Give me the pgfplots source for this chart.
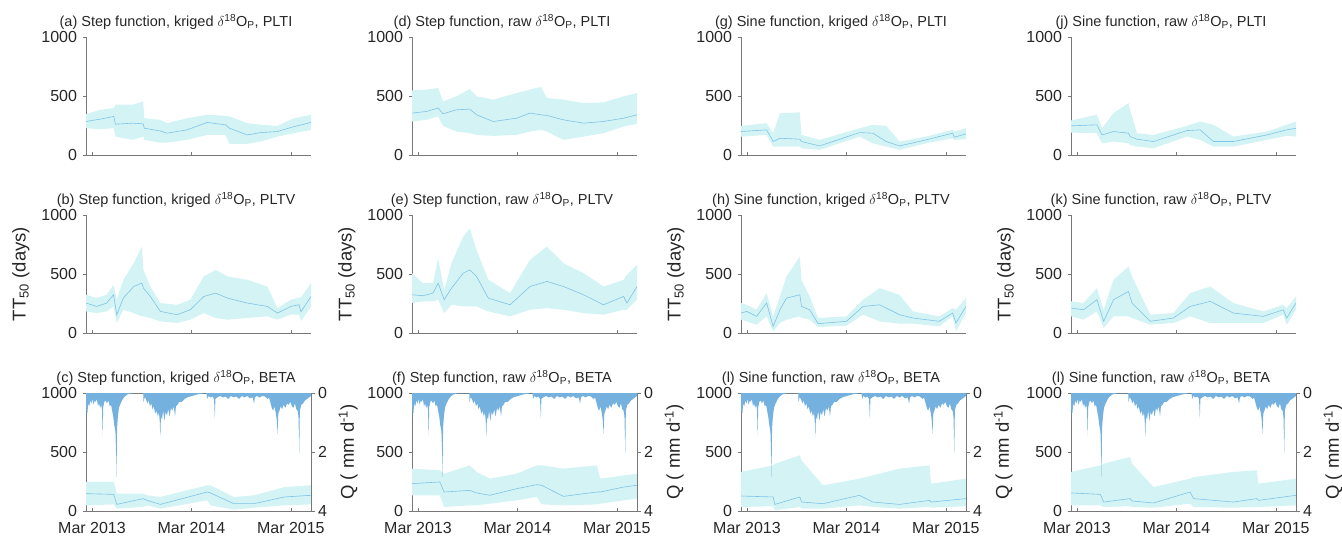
\documentclass[border=0pt]{standalone}
\usepackage{fontspec}
\setmainfont{Liberation Sans}
\usepackage{pgfplots}
\usepackage{pgfplotstable}
\pgfplotsset{compat=1.18}
\usepgfplotslibrary{fillbetween}

\definecolor{bandc}{RGB}{212,243,244}
\definecolor{medc}{RGB}{125,196,230}
\definecolor{qc}{RGB}{116,177,223}
\definecolor{axc}{RGB}{120,120,120}
\definecolor{txc}{RGB}{38,38,38}

% days since 1 Mar 2013: d, lower bound, upper bound, median TT50
\pgfplotstableread{
d lo hi mid
-22 227 347 284
30 219 383 304
80 227 398 327
86 156 426 261
150 128 426 270
188 156 454 264
192 128 312 227
250 105 298 204
275 105 270 185
349 128 312 213
423 170 341 276
490 170 332 256
505 94 327 227
570 94 270 170
620 114 256 190
681 156 247 199
742 185 312 241
804 213 341 276
}\tA
\pgfplotstableread{
d lo hi mid
-22 183 324 254
17 169 296 225
54 183 324 254
79 225 408 324
91 85 282 155
115 197 451 296
153 169 592 394
183 141 732 423
189 141 535 380
214 127 394 310
251 99 254 183
312 85 239 155
361 113 282 197
411 169 479 310
454 127 535 338
497 113 479 296
570 127 451 254
644 141 394 225
681 113 211 169
730 155 282 225
760 155 300 240
767 100 300 180
804 225 423 310
}\tB
\pgfplotstableread{
d lo hi mid
-22 48 246 147
80 56 246 141
91 20 147 56
188 34 147 105
202 48 133 90
251 20 119 56
423 90 218 161
435 48 218 153
521 11 119 62
595 28 133 62
706 48 203 119
804 56 218 133
}\tC
\pgfplotstableread{
d lo hi mid
-22 284 548 355
31 298 554 369
74 327 568 398
92 247 454 349
141 199 497 383
190 185 559 389
215 170 497 341
276 162 469 284
362 170 525 312
411 199 554 355
451 213 577 341
473 199 483 335
534 128 469 298
608 156 440 270
681 185 446 284
755 241 497 312
804 264 525 341
}\tD
\pgfplotstableread{
d lo hi mid
-22 254 507 324
18 268 423 316
55 268 423 338
74 282 634 423
96 169 366 282
123 239 592 380
166 225 817 507
190 225 887 535
215 225 704 479
258 183 451 296
338 141 338 239
411 197 620 394
473 211 732 437
534 197 592 394
608 169 507 324
681 155 394 239
755 197 451 310
767 197 493 254
804 282 577 394
}\tE
\pgfplotstableread{
d lo hi mid
-22 133 359 232
80 133 345 246
96 34 316 161
190 48 387 175
215 48 331 153
264 62 274 133
362 90 316 189
436 119 387 223
454 56 387 218
534 48 359 124
657 56 387 161
669 62 274 161
755 90 302 203
804 105 316 218
}\tF
\pgfplotstableread{
d lo hi mid
-22 156 247 199
72 170 270 213
96 71 185 114
121 71 355 142
194 71 361 134
200 57 170 114
267 43 128 77
413 156 227 190
462 99 256 185
511 71 247 114
560 43 114 77
657 99 156 128
755 142 213 185
761 128 199 151
804 134 227 179
}\tG
\pgfplotstableread{
d lo hi mid
-22 113 254 169
-1 99 239 183
35 70 197 141
72 141 338 254
96 14 141 56
121 85 310 197
145 113 479 296
194 141 648 324
200 127 451 225
230 113 310 197
261 51 127 79
365 62 141 99
426 155 282 225
487 99 380 239
560 79 324 155
609 79 183 127
706 56 141 99
755 141 211 169
767 14 197 85
804 169 296 225
}\tH
\pgfplotstableread{
d lo hi mid
-22 34 331 127
96 40 387 119
102 6 401 56
194 34 472 119
200 20 429 76
279 20 218 62
413 48 274 133
462 34 302 76
560 20 359 56
670 34 387 90
676 28 232 76
804 40 274 105
}\tI
\pgfplotstableread{
d lo hi mid
-22 190 293 247
73 185 341 256
92 99 227 170
134 114 355 199
189 99 440 185
195 85 383 156
220 71 185 134
281 57 170 114
403 156 247 207
452 128 284 213
501 71 256 114
574 71 156 114
697 128 199 170
770 162 256 213
804 156 284 227
}\tJ
\pgfplotstableread{
d lo hi mid
-22 141 268 211
24 113 254 197
73 183 380 282
98 42 197 99
134 141 451 282
189 141 563 352
202 127 479 254
269 70 155 99
354 85 169 127
415 141 338 225
489 85 394 268
574 85 254 169
684 85 183 141
757 155 239 197
770 70 211 127
804 197 310 254
}\tK
\pgfplotstableread{
d lo hi mid
-22 48 331 153
86 48 387 141
98 34 401 76
195 40 458 105
202 34 401 85
281 28 203 68
415 62 274 161
428 34 288 105
574 28 331 76
660 34 345 105
666 34 232 90
804 48 274 133
}\tL
% discharge Q (mm/d)
\pgfplotstableread{
d q
-22 0.85
-20 0.5
-17 0.7
-14 0.35
-10 0.45
-6 0.25
-2 0.35
2 0.2
6 0.4
10 0.25
14 0.3
18 0.2
22 0.45
26 0.35
30 0.5
34 0.4
37 0.6
39 1.45
41 0.5
45 0.3
50 0.25
55 0.35
60 0.25
65 0.45
70 0.4
74 0.6
78 0.8
82 1.1
86 1.3
88 1.9
90 2.85
92 1.2
95 0.8
99 0.5
105 0.35
112 0.22
120 0.12
130 0.05
145 0.01
160 0
188 0
189 0.3
193 0.15
198 0.2
203 0.35
208 0.25
213 0.45
218 0.35
222 0.55
227 0.45
232 0.7
237 0.6
242 0.8
246 0.65
249 1.0
251 1.5
253 0.8
257 0.9
261 0.6
266 0.95
270 0.65
275 0.75
280 0.55
285 0.8
290 0.5
295 0.6
300 0.45
305 0.8
308 0.45
314 0.4
320 0.3
330 0.3
340 0.2
350 0.15
360 0.12
375 0.08
390 0.04
405 0.02
411 0
420 0
423 0.2
427 0.1
435 0.15
442 0.12
448 0.2
451 0.87
453 0.2
460 0.15
470 0.1
480 0.15
490 0.12
500 0.2
510 0.1
520 0.15
530 0.12
540 0.2
550 0.1
560 0.15
570 0.1
580 0.18
590 0.15
595 0.36
598 0.15
605 0.1
615 0.15
625 0.1
635 0.12
645 0.2
650 0.15
656 0.36
660 0.5
665 0.6
670 0.45
675 0.7
678 0.9
681 1.38
684 0.7
688 0.6
693 0.45
698 0.55
703 0.4
710 0.5
716 0.35
722 0.4
728 0.3
734 0.45
740 0.5
745 0.35
750 0.55
755 0.6
758 0.8
761 2.06
763 0.6
768 0.4
775 0.35
782 0.25
790 0.2
797 0.15
804 0.1
}\tQ

\pgfplotsset{
  panel/.style={
    scale only axis, width=225pt, height=118pt, anchor=south west,
    xmin=-22, xmax=804, ymin=0, ymax=1000,
    axis x line*=bottom, axis y line*=left,
    axis line style={axc, line width=0.6pt},
    xtick={0,365,730}, xticklabels={},
    ytick={0,500,1000},
    xtick align=inside, ytick align=outside, major tick length=3.5pt,
    tick style={axc, line width=0.6pt},
    tick label style={font=\fontsize{16}{16}\selectfont, text=txc},
    yticklabel style={xshift=-2pt},
    /pgf/number format/1000 sep={},
    /pgf/number format/assume math mode=true,
    title style={font=\fontsize{14.5}{16}\selectfont, text=txc,
      at={(0.40,1)}, anchor=south, yshift=-2pt},
    ylabel style={font=\fontsize{18.5}{18.5}\selectfont, text=txc,
      at={(axis description cs:-0.29,0.5)}, anchor=center},
  },
  bottomrow/.style={xticklabels={Mar 2013,Mar 2014,Mar 2015},
    xticklabel style={yshift=-8pt}},
  qaxis/.style={
    scale only axis, width=225pt, height=118pt, anchor=south west,
    xmin=-22, xmax=804, ymin=0, ymax=4, y dir=reverse,
    axis x line*=top, axis y line*=right, xtick=\empty,
    ytick={0,2,4}, ytick align=outside, major tick length=3.5pt,
    tick style={axc, line width=0.6pt},
    axis line style={axc, line width=0.6pt},
    tick label style={font=\fontsize{16}{16}\selectfont, text=txc},
    /pgf/number format/assume math mode=true,
    ylabel={Q ( mm d\textsuperscript{-1})},
    ylabel style={font=\fontsize{18.5}{18.5}\selectfont, text=txc,
      at={(axis description cs:1.165,0.5)}, anchor=center},
  },
}

\newcommand{\band}[1]{%
  \addplot[name path=hi, draw=none, forget plot] table[x=d, y=hi]{#1};
  \addplot[name path=lo, draw=none, forget plot] table[x=d, y=lo]{#1};
  \addplot[fill=bandc, draw=none] fill between[of=hi and lo];
  \addplot[medc, line width=0.6pt] table[x=d, y=mid]{#1};
}
\newcommand{\qplot}{%
  \addplot[fill=qc, draw=none] table[x=d, y=q]{\tQ} \closedcycle;
}
\newcommand{\dO}{$\delta$\textsuperscript{18}O\textsubscript{P}}
\newcommand{\ttlab}{TT\textsubscript{50} (days)}

\begin{document}
\begin{tikzpicture}

% column 1
\begin{axis}[panel, at={(86pt,-155pt)}, title={(a) Step function, kriged \dO, PLTI}]
\band{\tA}
\end{axis}
\begin{axis}[panel, at={(86pt,-333pt)}, title={(b) Step function, kriged \dO, PLTV}, ylabel={\ttlab}]
\band{\tB}
\end{axis}
\begin{axis}[panel, bottomrow, at={(86pt,-511pt)}, title={(c) Step function, kriged \dO, BETA}]
\band{\tC}
\end{axis}
\begin{axis}[qaxis, at={(86pt,-511pt)}]
\qplot
\end{axis}

% column 2
\begin{axis}[panel, at={(412pt,-155pt)}, title={(d) Step function, raw \dO, PLTI}]
\band{\tD}
\end{axis}
\begin{axis}[panel, at={(412pt,-333pt)}, title={(e) Step function, raw \dO, PLTV}, ylabel={\ttlab}]
\band{\tE}
\end{axis}
\begin{axis}[panel, bottomrow, at={(412pt,-511pt)}, title={(f) Step function, raw \dO, BETA}]
\band{\tF}
\end{axis}
\begin{axis}[qaxis, at={(412pt,-511pt)}]
\qplot
\end{axis}

% column 3
\begin{axis}[panel, at={(741pt,-155pt)}, title={(g) Sine function, kriged \dO, PLTI}]
\band{\tG}
\end{axis}
\begin{axis}[panel, at={(741pt,-333pt)}, title={(h) Sine function, kriged \dO, PLTV}, ylabel={\ttlab}]
\band{\tH}
\end{axis}
\begin{axis}[panel, bottomrow, at={(741pt,-511pt)}, title={(l) Sine function, raw \dO, BETA}]
\band{\tI}
\end{axis}
\begin{axis}[qaxis, at={(741pt,-511pt)}]
\qplot
\end{axis}

% column 4
\begin{axis}[panel, at={(1071pt,-155pt)}, title={(j) Sine function, raw \dO, PLTI}]
\band{\tJ}
\end{axis}
\begin{axis}[panel, at={(1071pt,-333pt)}, title={(k) Sine function, raw \dO, PLTV}, ylabel={\ttlab}]
\band{\tK}
\end{axis}
\begin{axis}[panel, bottomrow, at={(1071pt,-511pt)}, title={(l) Sine function, raw \dO, BETA}]
\band{\tL}
\end{axis}
\begin{axis}[qaxis, at={(1071pt,-511pt)}]
\qplot
\end{axis}

\pgfresetboundingbox
\path[use as bounding box] (0,0) rectangle (1342pt,-538pt);
\end{tikzpicture}
\end{document}
